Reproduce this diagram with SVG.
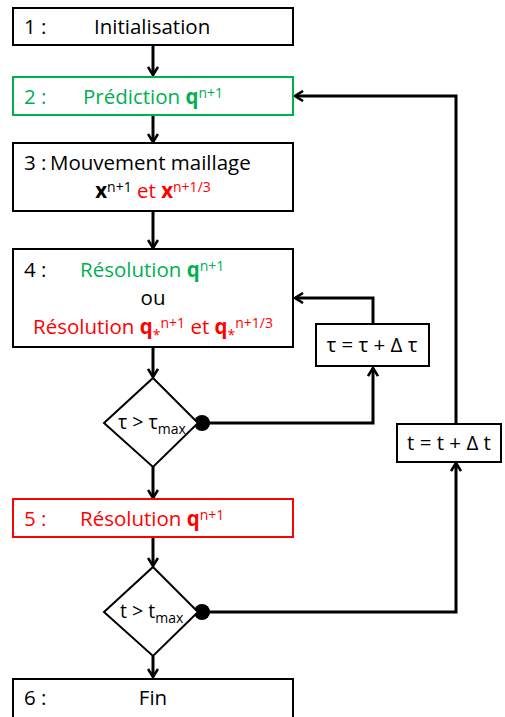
<svg xmlns="http://www.w3.org/2000/svg" width="505" height="717" viewBox="0 0 505 717">
<defs>
<style>
text{font-family:"Open Sans","Liberation Sans",sans-serif;font-size:20.5px;fill:#000}
.box{fill:#fff;stroke:#000;stroke-width:2}
.g{fill:#00b050}
.r{fill:#ff0000}
.b{font-weight:bold}
.sup{font-size:14px;baseline-shift:6px}
.sub{font-size:14px;baseline-shift:-5px}
.st{font-size:14px;baseline-shift:-6px}
.d{font-size:19.5px}
.conn{fill:none;stroke:#000;stroke-width:3}
</style>
<marker id="ah" viewBox="0 0 12 12" refX="10" refY="6" markerWidth="12" markerHeight="12" markerUnits="userSpaceOnUse" orient="auto">
<path d="M2,1 L10,6 L2,11" fill="none" stroke="#000" stroke-width="2.6"/>
</marker>
</defs>
<g id="connectors">
<line class="conn" x1="153" y1="46" x2="153" y2="75" marker-end="url(#ah)"/>
<line class="conn" x1="153" y1="115" x2="153" y2="142" marker-end="url(#ah)"/>
<line class="conn" x1="153" y1="211" x2="153" y2="248" marker-end="url(#ah)"/>
<line class="conn" x1="153" y1="347" x2="153" y2="377" marker-end="url(#ah)"/>
<line class="conn" x1="153" y1="467" x2="153" y2="498" marker-end="url(#ah)"/>
<line class="conn" x1="153" y1="537" x2="153" y2="566" marker-end="url(#ah)"/>
<line class="conn" x1="153" y1="656" x2="153" y2="677" marker-end="url(#ah)"/>
<polyline class="conn" points="202,423 373,423 373,368" marker-end="url(#ah)"/>
<polyline class="conn" points="373,324 373,298 295,298" marker-end="url(#ah)"/>
<polyline class="conn" points="202,612 456,612 456,463" marker-end="url(#ah)"/>
<polyline class="conn" points="456,424 456,96 295,96" marker-end="url(#ah)"/>
<circle cx="202" cy="423" r="8" fill="#000"/>
<circle cx="202" cy="612" r="8" fill="#000"/>
</g>
<g id="n1">
<rect class="box" x="13" y="8" width="280" height="37"/>
<text x="24" y="34">1 :</text>
<text x="94" y="34">Initialisation</text>
</g>
<g id="n2">
<rect class="box" x="13" y="77" width="280" height="38" style="stroke:#00b050"/>
<text class="g" x="24" y="104">2 :</text>
<text class="g" x="83" y="104">Prédiction <tspan class="b">q</tspan><tspan class="sup">n+1</tspan></text>
</g>
<g id="n3">
<rect class="box" x="13" y="143" width="280" height="68"/>
<text x="24" y="170">3 :</text>
<text x="50" y="170">Mouvement maillage</text>
<text x="153" y="198" text-anchor="middle"><tspan class="b">x</tspan><tspan class="sup">n+1</tspan><tspan class="r"> et </tspan><tspan class="r b">x</tspan><tspan class="r sup">n+1/3</tspan></text>
</g>
<g id="n4">
<rect class="box" x="13" y="249" width="280" height="98"/>
<text x="24" y="277">4 :</text>
<text class="g" x="80" y="277">Résolution <tspan class="b">q</tspan><tspan class="sup">n+1</tspan></text>
<text x="153" y="305" text-anchor="middle">ou</text>
<text class="r" x="153" y="334" text-anchor="middle">Résolution <tspan class="b">q</tspan><tspan class="st">*</tspan><tspan class="sup">n+1</tspan> et <tspan class="b">q</tspan><tspan class="st">*</tspan><tspan class="sup">n+1/3</tspan></text>
</g>
<g id="tau">
<rect class="box" x="316" y="324" width="113" height="42"/>
<text x="372" y="352" text-anchor="middle">τ = τ + Δ τ</text>
</g>
<g id="d1">
<polygon class="box" points="153,378 198,423 153,467 104,423"/>
<text class="d" x="118" y="429">τ &gt; τ<tspan class="sub">max</tspan></text>
</g>
<g id="n5">
<rect class="box" x="13" y="499" width="280" height="38" style="stroke:#ff0000"/>
<text class="r" x="24" y="526">5 :</text>
<text class="r" x="80" y="526">Résolution <tspan class="b">q</tspan><tspan class="sup">n+1</tspan></text>
</g>
<g id="t">
<rect class="box" x="397" y="424" width="104" height="38"/>
<text x="449" y="450" text-anchor="middle">t = t + Δ t</text>
</g>
<g id="d2">
<polygon class="box" points="153,567 198,612 153,656 104,612"/>
<text class="d" x="120" y="618">t &gt; t<tspan class="sub">max</tspan></text>
</g>
<g id="n6">
<rect class="box" x="13" y="679" width="280" height="40"/>
<text x="24" y="705">6 :</text>
<text x="153" y="705" text-anchor="middle">Fin</text>
</g>
</svg>
